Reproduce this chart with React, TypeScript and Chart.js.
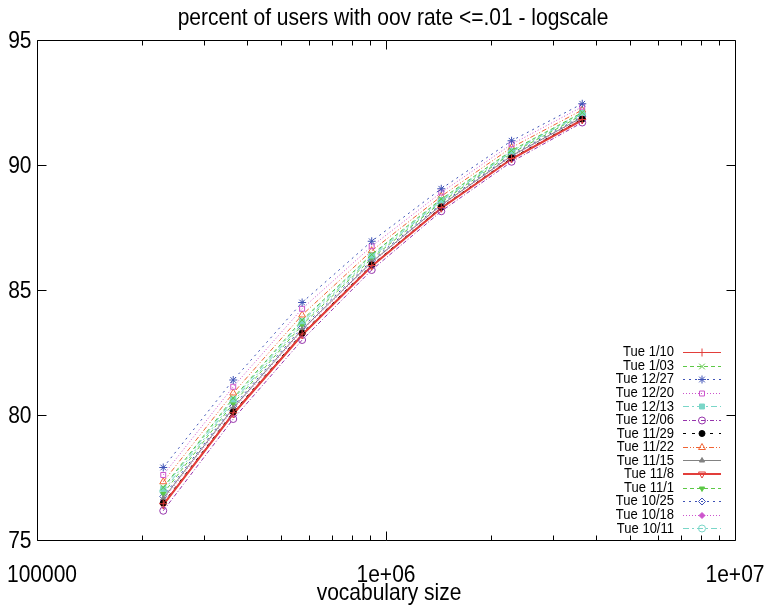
import { useEffect, useRef } from 'react';
import { Chart, registerables } from 'chart.js';
import { drawPoint } from 'chart.js/helpers';

Chart.register(...registerables);

// ---- data ----
const vocabSizes = [230000, 365000, 575000, 910000, 1440000, 2290000, 3650000];

const seriesLabels = [
  'Tue 1/10', 'Tue 1/03', 'Tue 12/27', 'Tue 12/20', 'Tue 12/13', 'Tue 12/06', 'Tue 11/29',
  'Tue 11/22', 'Tue 11/15', 'Tue 11/8', 'Tue 11/1', 'Tue 10/25', 'Tue 10/18', 'Tue 10/11',
];

const tue0110 = [76.45, 80.09, 83.24, 85.98, 88.3, 90.26, 91.82];
const tue0103 = [77.1, 80.68, 83.8, 86.42, 88.64, 90.58, 92.1];
const tue1227 = [77.9, 81.4, 84.5, 86.95, 89.05, 90.97, 92.45];
const tue1220 = [77.6, 81.13, 84.25, 86.75, 88.9, 90.83, 92.33];
const tue1213 = [77.05, 80.62, 83.75, 86.38, 88.6, 90.55, 92.08];
const tue1206 = [76.17, 79.84, 83.0, 85.8, 88.15, 90.13, 91.7];
const tue1129 = [76.48, 80.12, 83.27, 86.0, 88.31, 90.28, 91.84];
const tue1122 = [77.33, 80.88, 84.0, 86.57, 88.75, 90.7, 92.2];
const tue1115 = [76.66, 80.28, 83.42, 86.12, 88.4, 90.37, 91.91];
const tue1108 = [76.4, 80.04, 83.2, 85.95, 88.27, 90.24, 91.8];
const tue1101 = [76.86, 80.46, 83.6, 86.26, 88.51, 90.47, 92.0];
const tue1025 = [76.74, 80.35, 83.5, 86.18, 88.45, 90.41, 91.95];
const tue1018 = [76.6, 80.23, 83.37, 86.09, 88.38, 90.34, 91.89];
const tue1011 = [76.95, 80.54, 83.67, 86.32, 88.55, 90.51, 92.04];

const seriesValues = [
  tue0110, tue0103, tue1227, tue1220, tue1213, tue1206, tue1129,
  tue1122, tue1115, tue1108, tue1101, tue1025, tue1018, tue1011,
];

const yTickValues = [75, 80, 85, 90, 95];
const xTickValues = [100000, 1000000, 10000000];
const xTickLabels = ['100000', '1e+06', '1e+07'];
const chartTitle = 'percent of users with oov rate <=.01 - logscale';
const xAxisTitle = 'vocabulary size';

// ---- styles ----
const RED = 'rgb(226,62,58)';
const GREEN = 'rgb(92,200,70)';
const BLUE = 'rgb(62,82,182)';
const MAGENTA = 'rgb(204,84,204)';
const CYAN = 'rgb(122,214,200)';
const PURPLE = 'rgb(150,52,172)';
const BLACK = 'rgb(0,0,0)';
const ORANGE = 'rgb(240,100,52)';
const GRAY = 'rgb(130,130,130)';
const NONE = 'rgba(0,0,0,0)';

type Sty = { color: string; dash: number[]; width: number; point: string; fill: boolean; rot?: number; r?: number };
const styles: Sty[] = [
  { color: RED, dash: [], width: 1, point: 'cross', fill: false, r: 4 },
  { color: GREEN, dash: [4, 3], width: 1, point: 'crossRot', fill: false, r: 4 },
  { color: BLUE, dash: [2, 4], width: 1, point: 'star', fill: false, r: 4 },
  { color: MAGENTA, dash: [1, 2], width: 1, point: 'rect', fill: false, r: 3.5 },
  { color: CYAN, dash: [6, 3, 2, 3], width: 1, point: 'rect', fill: true, r: 3.5 },
  { color: PURPLE, dash: [4, 2, 1, 2], width: 1, point: 'circle', fill: false, r: 3.5 },
  { color: BLACK, dash: [3, 6], width: 1, point: 'circle', fill: true, r: 3 },
  { color: ORANGE, dash: [5, 2, 1, 2, 1, 2], width: 1, point: 'triangle', fill: false, r: 4 },
  { color: GRAY, dash: [], width: 1, point: 'triangle', fill: true, r: 3 },
  { color: RED, dash: [], width: 2, point: 'triangle', fill: false, rot: 180, r: 4 },
  { color: GREEN, dash: [4, 3], width: 1, point: 'triangle', fill: true, rot: 180, r: 3 },
  { color: BLUE, dash: [2, 4], width: 1, point: 'rectRot', fill: false, r: 3.5 },
  { color: MAGENTA, dash: [1, 2], width: 1, point: 'rectRot', fill: true, r: 3 },
  { color: CYAN, dash: [6, 3, 2, 3], width: 1, point: 'circle', fill: false, r: 3.5 },
];

const FONT = '"Liberation Sans", Arial, Helvetica, sans-serif';

function drawText(ctx: CanvasRenderingContext2D, s: string, x: number, y: number, align: CanvasTextAlign, size: number, sx: number) {
  ctx.save();
  ctx.translate(x, y);
  ctx.scale(sx, 1);
  ctx.font = `${size}px ${FONT}`;
  ctx.textAlign = align;
  ctx.textBaseline = 'middle';
  ctx.fillStyle = '#000';
  ctx.fillText(s, 0, 0);
  ctx.restore();
}

const gnuplotDecor = {
  id: 'gnuplotDecor',
  afterDraw(chart: any) {
    const { ctx, chartArea: a, scales } = chart;
    const xs = scales.x;
    const ys = scales.y;
    ctx.save();
    ctx.strokeStyle = '#000';
    ctx.lineWidth = 1;
    ctx.setLineDash([]);
    const L = Math.round(a.left) + 0.5;
    const R = Math.round(a.right) + 0.5;
    const T = Math.round(a.top) + 0.5;
    const B = Math.round(a.bottom) + 0.5;
    ctx.beginPath();
    ctx.rect(L, T, R - L, B - T);
    ctx.stroke();

    const line = (x1: number, y1: number, x2: number, y2: number) => {
      ctx.beginPath();
      ctx.moveTo(x1, y1);
      ctx.lineTo(x2, y2);
      ctx.stroke();
    };
    // y ticks
    yTickValues.forEach((v) => {
      const py = Math.round(ys.getPixelForValue(v)) + 0.5;
      line(L, py, L + 9, py);
      line(R - 9, py, R, py);
      drawText(ctx, String(v), L - 6, py + 1, 'right', 24, 0.875);
    });
    // x ticks (major + minor)
    for (let e = 5; e < 7; e++) {
      for (let m = 1; m <= 9; m++) {
        const v = m * Math.pow(10, e);
        const px = Math.round(xs.getPixelForValue(v)) + 0.5;
        const len = m === 1 ? 9 : 5;
        line(px, B, px, B - len);
        line(px, T, px, T + len);
      }
    }
    xTickValues.forEach((v, i) => {
      let px = xs.getPixelForValue(v);
      if (i === 0) px += 5;
      drawText(ctx, xTickLabels[i], px, 575, 'center', 24, 0.875);
    });
    // titles
    drawText(ctx, chartTitle, 393, 18, 'center', 24, 0.875);
    drawText(ctx, xAxisTitle, 389, 593, 'center', 24, 0.875);

    // legend
    seriesLabels.forEach((lab, i) => {
      const st = styles[i];
      const yy = 352 + i * 13.55;
      drawText(ctx, lab, 674, yy + 0.5, 'right', 14, 0.93);
      ctx.strokeStyle = st.color;
      ctx.lineWidth = st.width;
      ctx.setLineDash(st.dash);
      const ly = Math.round(yy) + (st.width === 1 ? 0.5 : 0);
      line(683, ly, 721, ly);
      ctx.setLineDash([]);
      ctx.lineWidth = 1;
      ctx.fillStyle = st.fill ? st.color : NONE;
      drawPoint(ctx, { pointStyle: st.point as any, rotation: st.rot || 0, radius: st.r || 3.5, borderWidth: 1 } as any, 702, ly);
    });
    ctx.restore();
  },
};

export default function App() {
  const ref = useRef<HTMLCanvasElement | null>(null);
  useEffect(() => {
    if (!ref.current) return;
    const datasets = seriesValues.map((vals, i) => {
      const st = styles[i];
      return {
        label: seriesLabels[i],
        data: vals.map((y, j) => ({ x: vocabSizes[j], y })),
        borderColor: st.color,
        backgroundColor: st.fill ? st.color : NONE,
        borderWidth: st.width,
        borderDash: st.dash,
        pointStyle: st.point as any,
        pointRotation: st.rot || 0,
        pointRadius: st.r || 3.5,
        pointBorderColor: st.color,
        pointBackgroundColor: st.fill ? st.color : NONE,
        pointBorderWidth: 1,
        tension: 0,
        fill: false,
      };
    });
    const chart = new Chart(ref.current, {
      type: 'line',
      data: { datasets },
      options: {
        animation: false,
        responsive: false,
        devicePixelRatio: 1,
        layout: { padding: { left: 37, right: 35, top: 40, bottom: 67 } },
        plugins: {
          legend: { display: false },
          title: { display: false },
          tooltip: { enabled: false },
        },
        scales: {
          x: { type: 'logarithmic', min: 100000, max: 10000000, display: false },
          y: { type: 'linear', min: 75, max: 95, display: false },
        },
      },
      plugins: [gnuplotDecor],
    });
    return () => chart.destroy();
  }, []);
  return (
    <div style={{ position: 'absolute', left: 0, top: 0, width: 770, height: 607, background: '#fff' }}>
      <canvas ref={ref} width={770} height={607} style={{ display: 'block' }} />
    </div>
  );
}
